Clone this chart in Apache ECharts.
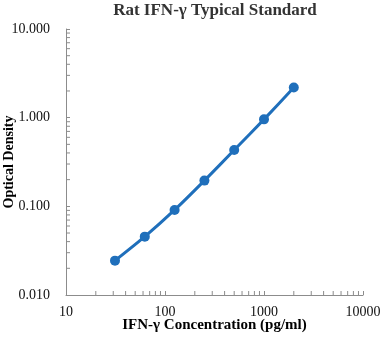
<!DOCTYPE html>
<html>
<head>
<meta charset="utf-8">
<script src="https://cdn.jsdelivr.net/npm/echarts@6/dist/echarts.min.js"></script>
<style>html,body{margin:0;padding:0;background:#fff}#c{width:382px;height:344px}</style>
</head>
<body>
<div id="c"></div>
<script>
var concentrations = [31.25, 62.5, 125, 250, 500, 1000, 2000];
var opticalDensity = [0.0244, 0.0455, 0.091, 0.195, 0.431, 0.957, 2.19];
var xMinorTicks = [20,30,40,50,60,70,80,90,200,300,400,500,600,700,800,900,2000,3000,4000,5000,6000,7000,8000,9000];
var yMinorTicks = [0.02,0.03,0.04,0.05,0.06,0.07,0.08,0.09,0.2,0.3,0.4,0.5,0.6,0.7,0.8,0.9,2,3,4,5,6,7,8,9];
var titleText = 'Rat IFN-γ Typical Standard';
var xTitle = 'IFN-γ Concentration (pg/ml)';
var yTitle = 'Optical Density';

var serif = '"Liberation Serif", "Times New Roman", serif';
var axisColor = '#8c8c8c';
var blue = '#1f6fbb';

var chart = echarts.init(document.getElementById('c'), null, {renderer: 'canvas'});
chart.setOption({
  animation: false,
  backgroundColor: '#fff',
  title: {
    text: titleText, left: 210, textAlign: 'center', top: -3,
    textStyle: {fontFamily: serif, fontWeight: 'bold', fontSize: 17, color: '#333'}
  },
  grid: {left: 66, right: 19, top: 29, bottom: 49, containLabel: false, outerBoundsMode: 'none'},
  xAxis: {
    type: 'log', logBase: 10, min: 10, max: 10000,
    name: xTitle, nameLocation: 'middle', nameGap: 23, nameMoveOverlap: false,
    nameTextStyle: {fontFamily: serif, fontWeight: 'bold', fontSize: 15, color: '#000'},
    axisLine: {lineStyle: {color: axisColor, width: 1}},
    axisTick: {show: true, inside: true, length: 4, lineStyle: {color: axisColor}},
    axisLabel: {fontFamily: serif, fontSize: 14, color: '#111', margin: 10,
      formatter: function (v) { return String(Math.round(v)); }},
    splitLine: {show: false}
  },
  yAxis: {
    type: 'log', logBase: 10, min: 0.01, max: 10,
    name: yTitle, nameLocation: 'middle', nameGap: 50, nameRotate: 90, nameMoveOverlap: false,
    nameTextStyle: {fontFamily: serif, fontWeight: 'bold', fontSize: 14, color: '#000'},
    axisLine: {show: true, lineStyle: {color: axisColor, width: 1}},
    axisTick: {show: true, inside: true, length: 4, lineStyle: {color: axisColor}},
    axisLabel: {fontFamily: serif, fontSize: 14, color: '#111', margin: 16,
      formatter: function (v) { return v.toFixed(3); }},
    splitLine: {show: false}
  },
  series: [
    {
      type: 'custom', silent: true, clip: false, z: 1,
      data: xMinorTicks.map(function (v) { return [v]; }),
      renderItem: function (params, api) {
        var p = api.coord([api.value(0), 0.01]);
        return {type: 'line', shape: {x1: p[0], y1: p[1], x2: p[0], y2: p[1] - 4},
          style: {stroke: axisColor, lineWidth: 1}};
      }
    },
    {
      type: 'custom', silent: true, clip: false, z: 1,
      data: yMinorTicks.map(function (v) { return [10, v]; }),
      renderItem: function (params, api) {
        var p = api.coord([10, api.value(1)]);
        return {type: 'line', shape: {x1: p[0], y1: p[1], x2: p[0] + 4, y2: p[1]},
          style: {stroke: axisColor, lineWidth: 1}};
      }
    },
    {
      type: 'line', z: 3,
      data: concentrations.map(function (c, i) { return [c, opticalDensity[i]]; }),
      smooth: 0.2,
      symbol: 'circle', symbolSize: 10,
      lineStyle: {color: blue, width: 3},
      itemStyle: {color: blue}
    }
  ]
});
</script>
</body>
</html>
